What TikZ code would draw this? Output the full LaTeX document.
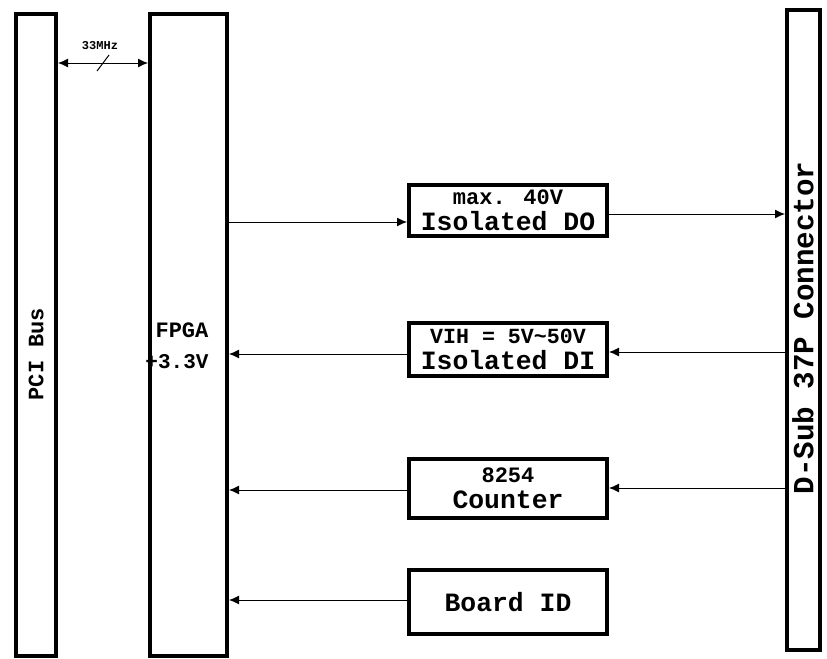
\documentclass[tikz,border=0pt]{standalone}
\usepackage{fontspec}
\setmainfont{Liberation Mono}
\usetikzlibrary{arrows.meta}

\begin{document}
\begin{tikzpicture}[x=0.5pt, y=-0.5pt,
  bar/.style={draw, line width=2pt, inner sep=0pt},
  blk/.style={draw, line width=2pt, inner sep=0pt, minimum width=99pt, align=center,
    font=\bfseries\fontsize{13.2}{13}\selectfont},
  sig/.style={-{Latex[length=5pt,width=4.5pt]}, line width=0.5pt},
  big/.style={font=\bfseries\fontsize{11}{12}\selectfont}]
  \useasboundingbox (0,0) rectangle (827,659);
  % long bars
  \node[bar, minimum width=20pt, minimum height=321pt] (pci) at (36,335) {};
  \node[bar, minimum width=38.5pt, minimum height=321pt] (fpga) at (188.5,335) {};
  \node[bar, minimum width=16.5pt, minimum height=320pt] (dsub) at (803.5,330) {};
  \node[big, rotate=90] (pcitxt) at (36,354) {PCI Bus};
  \node[big] (fpgatxt) at (182,330) {FPGA};
  \node[font=\bfseries\fontsize{10.5}{12}\selectfont] (volt) at (177,362) {+3.3V};
  \node[rotate=90, font=\bfseries\fontsize{14.6}{16}\selectfont] (dsubtxt) at (803,328) {D-Sub 37P Connector};
  % function blocks
  \node[blk, minimum height=25.5pt] (do) at (508,210.5)
    {{\fontsize{11}{11}\selectfont max. 40V}\\Isolated DO};
  \node[blk, minimum height=26.5pt] (di) at (508,349.5)
    {{\fontsize{10.8}{11}\selectfont VIH = 5V\char`\~50V}\\Isolated DI};
  \node[blk, minimum height=29.5pt] (cnt) at (508,488.5)
    {{\fontsize{11}{11}\selectfont 8254}\\Counter};
  \node[blk, minimum height=32pt] (bid) at (508,602) {Board ID};
  % bus link
  \draw[{Latex[length=5pt,width=4.5pt]}-{Latex[length=5pt,width=4.5pt]}, line width=0.5pt]
    ([yshift=136pt]pci.east) -- ([yshift=136pt]fpga.west) coordinate[pos=0.5] (mid);
  \draw[line width=0.5pt] ([shift={(-3pt,-4pt)}]mid) -- ([shift={(3pt,4pt)}]mid);
  \node[font=\bfseries\fontsize{6}{7}\selectfont] (clk) at (100,46) {33MHz};
  % signals
  \draw[sig] (fpga.east |- 0,222) -- (do.west |- 0,222);
  \draw[sig] (do.east |- 0,214) -- (dsub.west |- 0,214);
  \draw[sig] (dsub.west |- 0,352) -- (di.east |- 0,352);
  \draw[sig] (di.west |- 0,354) -- (fpga.east |- 0,354);
  \draw[sig] (dsub.west |- 0,488) -- (cnt.east |- 0,488);
  \draw[sig] (cnt.west |- 0,490) -- (fpga.east |- 0,490);
  \draw[sig] (bid.west |- 0,600) -- (fpga.east |- 0,600);
\end{tikzpicture}
\end{document}
